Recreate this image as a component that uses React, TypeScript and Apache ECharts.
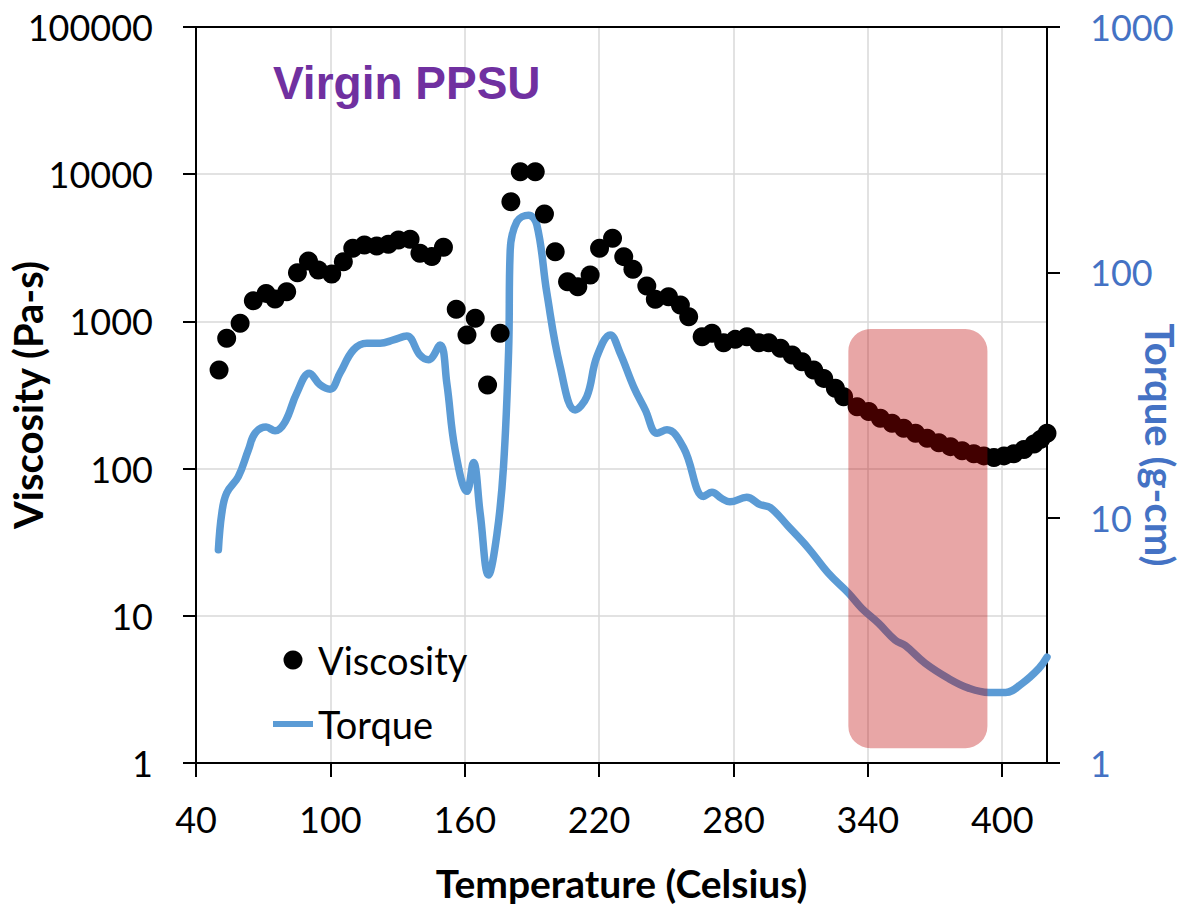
import React, { useEffect, useRef } from "react";
import * as echarts from "echarts";

const xTicks = [40, 100, 160, 220, 280, 340, 400];
const xMin = 40;
const xMax = 420;

const viscosityT = [
  50.3, 53.7, 59.7, 65.6, 71.3, 75.3, 80.5, 85.3, 90.2, 94.6, 100.6, 105.8, 110, 115.2, 120.7, 125.9, 130.4, 135.6, 140, 145.3, 150.5,
  156.2, 161, 164.7, 170.2, 175.8, 180.6, 184.8, 191.5, 195.6, 200.4, 205.9, 210.5, 216, 220.2, 226, 231, 235.1, 241.3, 245.1, 251,
  256.3, 260, 266, 270.4, 275.6, 280.8, 286, 291.3, 295.7, 301, 306.2, 310.6, 315.8, 320.3, 325.5, 329.2, 335.2, 340.4, 345.6, 350.8,
  356, 361.3, 366.5, 371.7, 376.9, 382.1, 387.3, 391.8, 396.3, 400.8, 405.2, 409.7, 414.2, 417.2, 420,
];
const viscosityV = [
  468, 768, 970, 1383, 1550, 1420, 1592, 2143, 2572, 2234, 2100, 2545, 3140, 3305, 3250, 3340, 3575, 3611, 2904, 2755, 3187,
  1208, 809, 1050, 370, 830, 6500, 10400, 10400, 5370, 2975, 1860, 1722, 2065, 3140, 3670, 2754, 2259, 1740, 1413, 1472,
  1291, 1076, 787, 830, 717, 755, 787, 717, 717, 656, 592, 532, 468, 410, 351, 308, 263, 244, 220, 203,
  188, 174, 161, 150, 141, 132, 126, 122, 119, 122, 126, 135, 147, 158, 174,
];

const torqueT = [
  50, 51.5, 53.7, 58.9, 63.4, 66.4, 71.3, 75.3, 79.8, 85, 90.6, 95.4, 99.9, 104.3, 110.3, 116.3, 122.2, 128.2, 134.1, 140, 143.8, 149,
  152, 155.7, 161, 163.9, 166.9, 170.6, 174.4, 177.3, 179.6, 180.3, 183.3, 188.5, 192.2, 196.7, 202.6, 209.3, 214.5, 219, 225, 229.4,
  235.4, 240.6, 245.9, 250.3, 257.8, 266.7, 270.4, 274.6, 278.4, 285.9, 291.9, 296.4, 304.6, 313.5, 322.4, 331.4, 337.3, 344.8, 352.2,
  356.7, 365.6, 376.1, 385, 394, 401.5, 408.9, 416.4, 420,
];
const torqueV = [
  7.4, 10.4, 12.6, 14.7, 18.9, 22.1, 23.4, 22.6, 24.6, 32.2, 38.8, 34.8, 33.4, 38.8, 48.3, 51.4, 51.4, 53, 55, 46, 44, 50.6,
  35.3, 18.9, 12.8, 16.8, 10.4, 5.84, 8.6, 16.1, 48, 123, 161, 171, 156, 82, 41.3, 27.5, 31.1, 45.3, 55.6, 46.8,
  34.2, 27.5, 22.1, 22.8, 19.2, 12.2, 12.7, 12, 11.6, 12.1, 11.3, 11, 9.19, 7.5, 5.93, 4.92, 4.27, 3.71, 3.17,
  3.01, 2.55, 2.21, 2.02, 1.94, 1.94, 2.11, 2.43, 2.7,
];

// highlighted temperature window and viscosity span of the shaded box
const highlightT = [331.3, 393.4];
const highlightV = [888, 1.26];

const FONT = "Lato";

export default function App() {
  const ref = useRef<HTMLDivElement>(null);
  useEffect(() => {
    if (!ref.current) return;
    const chart = echarts.init(ref.current, null, { renderer: "svg" });
    const axisLineStyle = { color: "#000", width: 2 };
    chart.setOption({
      animation: false,
      backgroundColor: "#fff",
      title: {
        text: "Virgin PPSU",
        left: 268,
        top: 55,
        textStyle: { fontFamily: "Liberation Sans", fontWeight: "bold", fontSize: 46, color: "#7030A0" },
      },
      grid: { left: 196, right: 136, top: 27, bottom: 141, containLabel: false, outerBoundsMode: "none" },
      legend: {
        orient: "vertical",
        left: 268,
        top: 631,
        itemWidth: 40,
        itemHeight: 19,
        itemGap: 16,
        textStyle: { fontFamily: FONT, fontSize: 38, color: "#000", lineHeight: 48 },
        data: [
          { name: "Viscosity", icon: "circle" },
          { name: "Torque", icon: "path://M0,0h40v6h-40z" },
        ],
      },
      xAxis: [
        {
          type: "value",
          min: xMin,
          max: xMax,
          interval: 60,
          name: "Temperature (Celsius)",
          nameLocation: "middle",
          nameGap: 100,
          nameMoveOverlap: false,
          nameTextStyle: { fontFamily: FONT, fontWeight: "bold", fontSize: 39, color: "#000" },
          axisLine: { show: true, lineStyle: axisLineStyle },
          axisTick: { show: true, length: 14, lineStyle: axisLineStyle, customValues: xTicks },
          axisLabel: { fontFamily: FONT, fontSize: 36, color: "#000", margin: 38, customValues: xTicks },
          splitLine: { show: true, lineStyle: { color: "#d9d9d9", width: 1.5 } },
        },
        {
          type: "value",
          min: xMin,
          max: xMax,
          position: "top",
          axisLine: { show: true, onZero: false, lineStyle: axisLineStyle },
          axisTick: { show: false },
          axisLabel: { show: false },
          splitLine: { show: false },
        },
      ],
      yAxis: [
        {
          type: "log",
          logBase: 10,
          min: 1,
          max: 100000,
          name: "Viscosity (Pa-s)",
          nameLocation: "middle",
          nameGap: 148,
          nameMoveOverlap: false,
          nameTextStyle: { fontFamily: FONT, fontWeight: "bold", fontSize: 40, color: "#000", lineHeight: 40 },
          axisLine: { show: true, lineStyle: axisLineStyle },
          axisTick: { show: true, length: 13, lineStyle: axisLineStyle },
          axisLabel: { fontFamily: FONT, fontSize: 36, color: "#000", margin: 43, formatter: (v: number) => String(Math.round(v)) },
          splitLine: { show: true, lineStyle: { color: "#d9d9d9", width: 1.5 } },
        },
        {
          type: "log",
          logBase: 10,
          min: 1,
          max: 1000,
          position: "right",
          name: "Torque (g-cm)",
          nameLocation: "middle",
          nameRotate: -90,
          nameGap: 94,
          nameMoveOverlap: false,
          nameTextStyle: {
            fontFamily: FONT,
            fontWeight: "bold",
            fontSize: 40,
            color: "#4472C4",
            lineHeight: 38,
            padding: [0, 0, 0, 100],
          },
          axisLine: { show: true, lineStyle: axisLineStyle },
          axisTick: { show: true, length: 13, lineStyle: axisLineStyle },
          axisLabel: { fontFamily: FONT, fontSize: 36, color: "#4472C4", margin: 43, formatter: (v: number) => String(Math.round(v)) },
          splitLine: { show: false },
        },
      ],
      series: [
        {
          name: "Torque",
          type: "line",
          yAxisIndex: 1,
          data: torqueT.map((t, i) => [t, torqueV[i]]),
          smooth: 0.4,
          symbol: "none",
          showSymbol: false,
          lineStyle: { color: "#5B9BD5", width: 7.5, cap: "round", join: "round" },
          itemStyle: { color: "#5B9BD5" },
          z: 2,
        },
        {
          name: "Viscosity",
          type: "scatter",
          data: viscosityT.map((t, i) => [t, viscosityV[i]]),
          symbol: "circle",
          symbolSize: 19,
          itemStyle: { color: "#000", opacity: 1 },
          z: 3,
        },
      ],
    });
    const p1 = chart.convertToPixel({ xAxisIndex: 0, yAxisIndex: 0 }, [highlightT[0], highlightV[0]]) as number[];
    const p2 = chart.convertToPixel({ xAxisIndex: 0, yAxisIndex: 0 }, [highlightT[1], highlightV[1]]) as number[];
    chart.setOption({
      graphic: [
        {
          type: "rect",
          z: 100,
          shape: { x: p1[0], y: p1[1], width: p2[0] - p1[0], height: p2[1] - p1[1], r: 22 },
          style: { fill: "rgba(190,0,0,0.35)" },
          silent: true,
        },
      ],
    });
    return () => chart.dispose();
  }, []);
  return <div ref={ref} style={{ position: "fixed", left: 0, top: 0, width: 1183, height: 904 }} />;
}
